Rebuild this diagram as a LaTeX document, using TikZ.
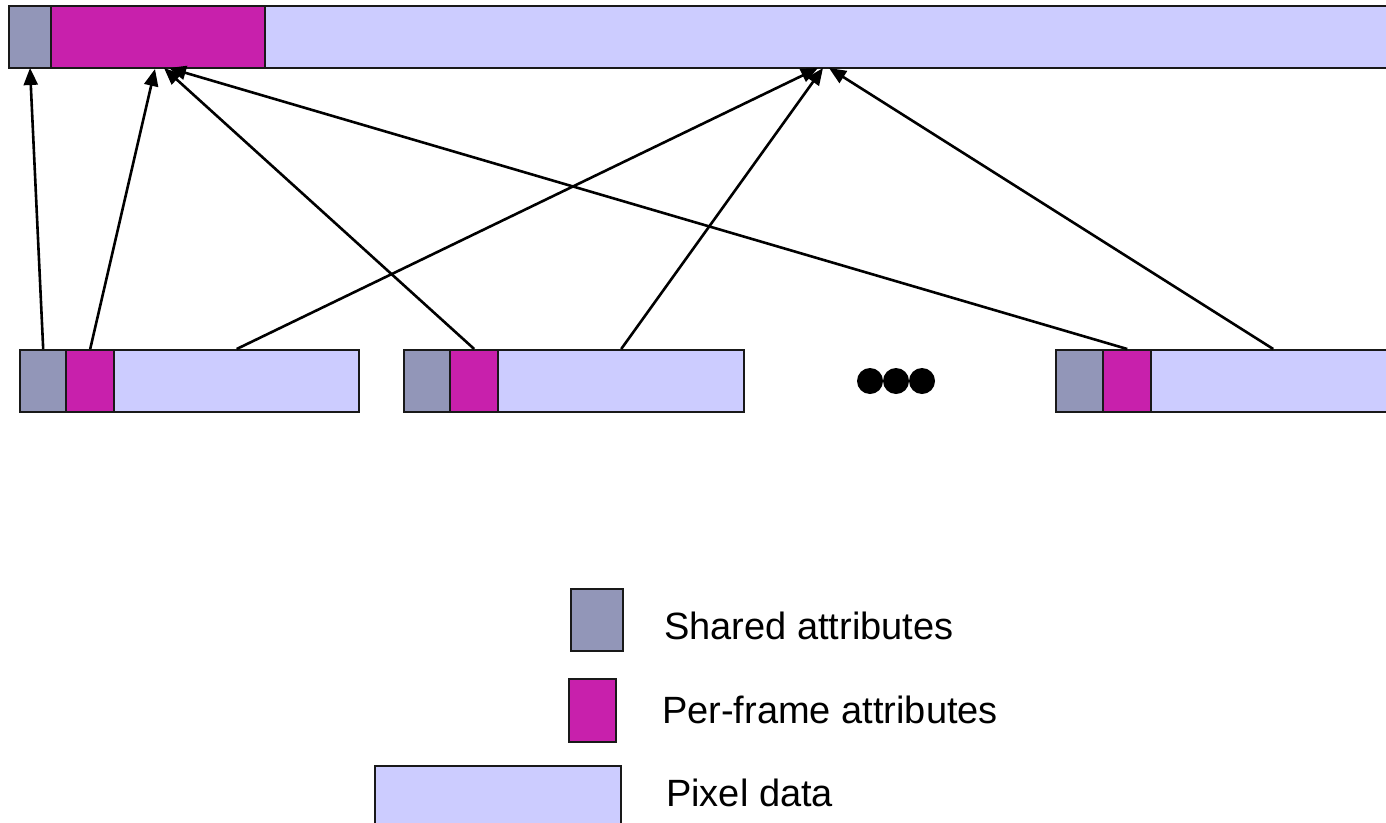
\documentclass[tikz,border=0pt]{standalone}
\usepackage{fontspec}
\setmainfont{Liberation Sans}
\usetikzlibrary{arrows.meta}

\definecolor{sharedc}{RGB}{146,150,184}
\definecolor{framec}{RGB}{200,32,172}
\definecolor{pixelc}{RGB}{204,204,255}

\tikzset{
  seg/.style={draw=black!90, line width=2.4pt, rectangle, inner sep=0pt, anchor=north west},
  sharedseg/.style={seg, fill=sharedc},
  frameseg/.style={seg, fill=framec},
  pixelseg/.style={seg, fill=pixelc},
  link/.style={line width=2.6pt, -{Triangle[length=17pt, width=14pt]}},
  dot/.style={circle, fill=black, inner sep=0pt, minimum size=26pt},
  legendtext/.style={anchor=base west, inner sep=0pt, font=\fontsize{38}{46}\selectfont}
}

\begin{document}
\begin{tikzpicture}[x=1pt, y=-1pt]
\useasboundingbox (0,0) rectangle (1386,822);
\clip (0,0) rectangle (1386,822);

% combined record
\node[sharedseg, minimum width=42, minimum height=62] (tg) at (8,5) {};
\node[frameseg, minimum width=214, minimum height=62] (tf) at (50,5) {};
\node[pixelseg, minimum width=1140, minimum height=62] (tp) at (264,5) {};

% individual frames
\node[sharedseg, minimum width=46, minimum height=62] (ag) at (19,349) {};
\node[frameseg, minimum width=48, minimum height=62] (af) at (65,349) {};
\node[pixelseg, minimum width=245, minimum height=62] (ap) at (113,349) {};

\node[sharedseg, minimum width=46, minimum height=62] (bg) at (403,349) {};
\node[frameseg, minimum width=48, minimum height=62] (bf) at (449,349) {};
\node[pixelseg, minimum width=246, minimum height=62] (bp) at (497,349) {};

\node[sharedseg, minimum width=47, minimum height=62] (cg) at (1055,349) {};
\node[frameseg, minimum width=48, minimum height=62] (cf) at (1102,349) {};
\node[pixelseg, minimum width=244, minimum height=62] (cp) at (1150,349) {};

% ellipsis dots
\node[dot] (d1) at (870,381) {};
\node[dot] (d2) at (896,381) {};
\node[dot] (d3) at (922,381) {};

% arrow targets on the combined record
\coordinate (tgin) at (30,68);
\coordinate (tfa) at (155,69);
\coordinate (tfb) at (164,68);
\coordinate (tfc) at (169,68);
\coordinate (tpa) at (818,68);
\coordinate (tpb) at (823,68);
\coordinate (tpc) at (829,68);

\draw[link] (ag.north) -- (tgin);
\draw[link] (af.north) -- (tfa);
\draw[link] (bf.north) -- (tfb);
\draw[link] (cf.north) -- (tfc);
\draw[link] (ap.north) -- (tpa);
\draw[link] (bp.north) -- (tpb);
\draw[link] (cp.north) -- (tpc);

% legend
\node[sharedseg, minimum width=52, minimum height=62] (ls) at (570,588) {};
\node[frameseg, minimum width=47, minimum height=63] (lf) at (568,678) {};
\node[pixelseg, minimum width=246, minimum height=58] (lp) at (374,765) {};

\node[legendtext] (lst) at (664,639) {Shared attributes};
\node[legendtext] (lft) at (662,723) {Per-frame attributes};
\node[legendtext] (lpt) at (666,806) {Pixel data};
\end{tikzpicture}
\end{document}
